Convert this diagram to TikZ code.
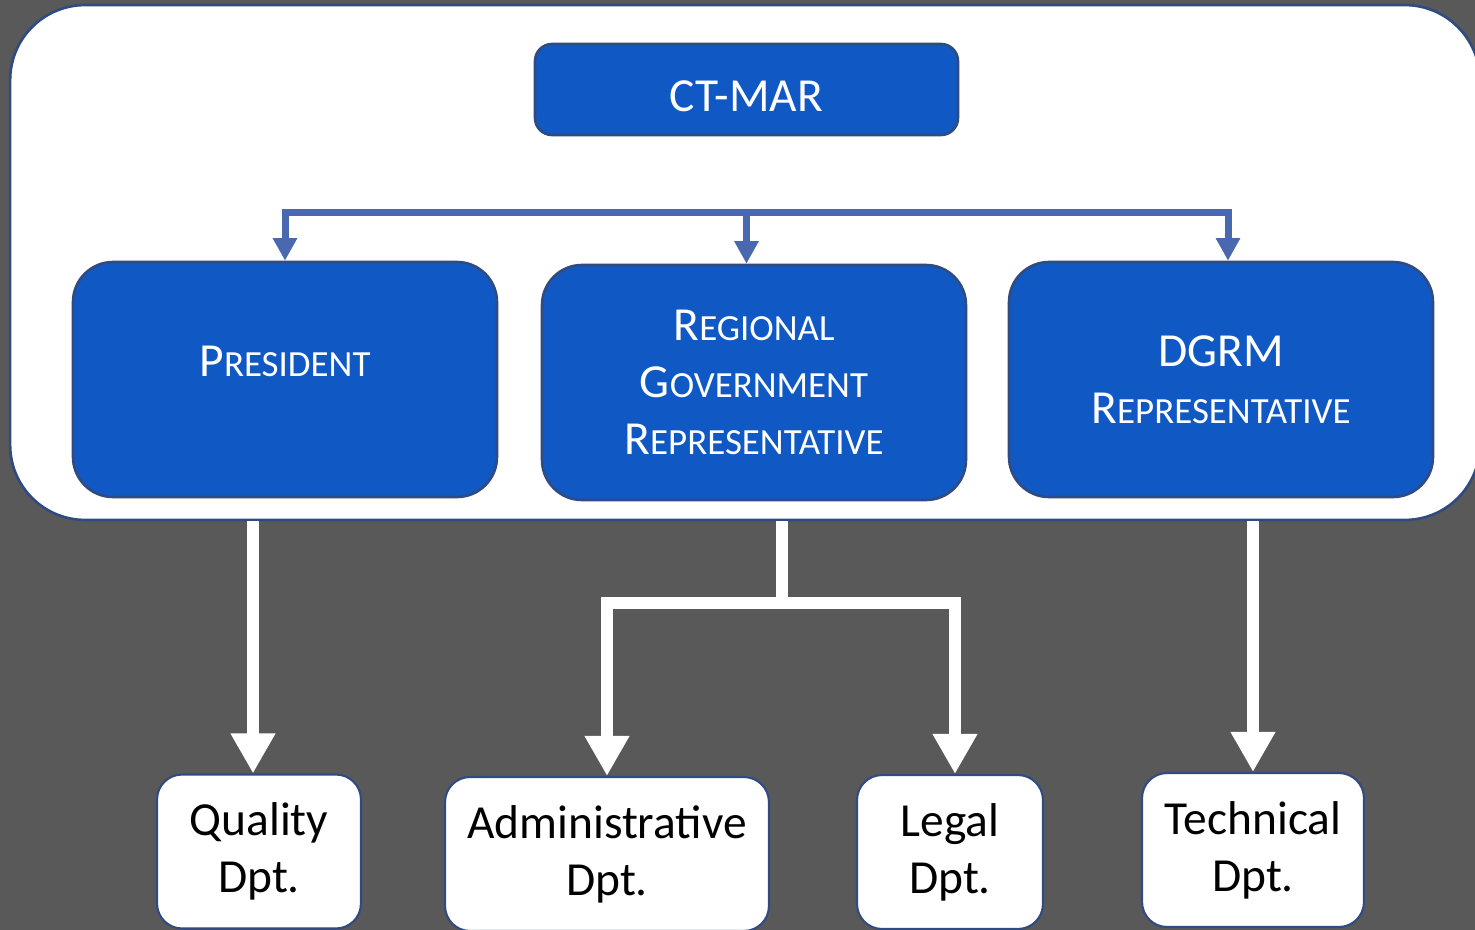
\documentclass[tikz,border=0pt]{standalone}
\usepackage{fontspec}
\setmainfont{Carlito}
\usepackage{tikz}
\usetikzlibrary{arrows.meta}
\definecolor{slate}{RGB}{89,89,89}
\definecolor{boxblue}{RGB}{16,89,196}
\definecolor{edgeblue}{RGB}{47,75,130}
\definecolor{linkblue}{RGB}{74,104,176}
\newcommand{\fsc}[2]{#1{\fontsize{21}{32.4}\selectfont #2}}
\tikzstyle{panel}=[draw=edgeblue,line width=1.5pt,fill=white,rounded corners=1.5cm,minimum width=29.4cm,minimum height=10.3cm,inner sep=0pt]
\tikzstyle{chair}=[draw=edgeblue,line width=1.5pt,fill=boxblue,text=white,rounded corners=0.34cm,minimum width=8.46cm,minimum height=1.82cm,font=\fontsize{27}{32.4}\selectfont]
\tikzstyle{head}=[draw=edgeblue,line width=1.5pt,fill=boxblue,text=white,align=center,rounded corners=0.8cm,minimum width=8.48cm,minimum height=4.7cm,font=\fontsize{27}{32.4}\selectfont]
\tikzstyle{dept}=[draw=edgeblue,line width=1.2pt,fill=white,text=black,align=center,rounded corners=0.5cm,minimum height=3.08cm,font=\fontsize{27}{32.4}\selectfont]
\tikzstyle{link}=[draw=linkblue,line width=0.14cm,>={Triangle[width=0.46cm,length=0.45cm]}]
\tikzstyle{flow}=[draw=white,line width=0.24cm,>={Triangle[width=0.84cm,length=0.8cm]}]

\begin{document}
\begin{tikzpicture}[x=0.02cm,y=-0.02cm]
    \useasboundingbox (0,0) rectangle (1475,930);
    \fill[slate] (0,0) rectangle (1475,930);
    \clip (0,0) rectangle (1475,930);
    % First the white panel and the blue boxes
    \node[panel] (panel) at (745,262.5) {};
    \node[chair,text height=0.88cm] (ctmar) at (746.5,89.5) {CT-MAR};
    \node[head,text depth=0.72cm] (pres) at (285,379.5) {\fsc{P}{RESIDENT}};
    \node[head] (regio) at (754,382.5) {\fsc{R}{EGIONAL}\\\fsc{G}{OVERNMENT}\\\fsc{R}{EPRESENTATIVE}};
    \node[head,text depth=-0.16cm] (dgrm) at (1221,379.5) {DGRM\\\fsc{R}{EPRESENTATIVE}};
    % Then the departments
    \foreach \pos/\name/\boxw/\first in {{(259,851.5)/qual/4.08/Quality}, {(607,854)/admin/6.48/Administrative}, {(950,852)/legal/3.72/Legal}, {(1253,850)/tech/4.44/Technical}}
        \node[dept,minimum width=\boxw cm] (\name) at \pos {\first\\Dpt.};
    % Blue links under CT-MAR
    \coordinate (bar) at (746,212);
    \draw[link,<->] (pres.north) -- (pres.north |- bar) -- ([xshift=0.14cm]dgrm.north |- bar) -- ([xshift=0.14cm]dgrm.north);
    \draw[link,->] (ctmar.south |- bar) -- (ctmar.south |- regio.north);
    % White flows down to the departments
    \coordinate (split) at (782,603);
    \draw[flow,->] ([xshift=-0.12cm]qual.north |- panel.south) -- ([xshift=-0.12cm]qual.north);
    \draw[flow] (split |- panel.south) -- (split);
    \draw[flow,->] (split) -| (admin.north);
    \draw[flow,->] (split) -| ([xshift=0.1cm]legal.north);
    \draw[flow,->] (tech.north |- panel.south) -- (tech.north);
\end{tikzpicture}
\end{document}
